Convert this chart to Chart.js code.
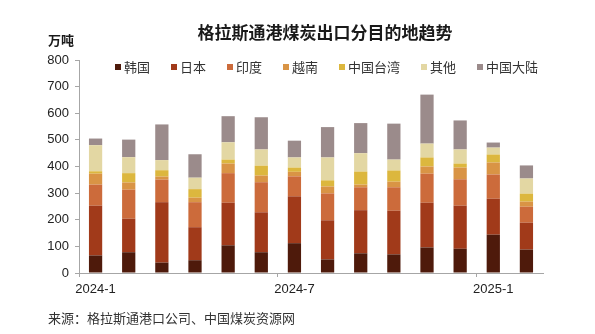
<!DOCTYPE html>
<html>
<head>
<meta charset="utf-8">
<script src="https://cdn.jsdelivr.net/npm/chart.js@4/dist/chart.umd.min.js"></script>
<style>
  html, body { margin: 0; padding: 0; background: #fff; }
  #wrap { width: 595px; height: 334px; }
</style>
</head>
<body>
<div id="wrap"><canvas id="coalChart" width="595" height="334"></canvas></div>
<script>
// months
var months = ['2024-1', '2024-2', '2024-3', '2024-4', '2024-5', '2024-6', '2024-7',
    '2024-8', '2024-9', '2024-10', '2024-11', '2024-12', '2025-1', '2025-2'];

// 万吨
var korea    = [66, 78, 39, 48, 104, 78, 112, 51, 74, 70, 96, 91, 144, 88];
var japan    = [187, 126, 227, 124, 160, 150, 176, 147, 162, 164, 168, 162, 135, 101];
var india    = [79, 109, 85, 94, 111, 113, 75, 101, 86, 88, 109, 99, 91, 60];
var vietnam  = [41, 27, 11, 17, 36, 25, 17, 26, 10, 21, 27, 44, 45, 19];
var taiwan   = [9, 35, 24, 32, 15, 37, 16, 23, 49, 42, 34, 15, 30, 30];
var others   = [98, 60, 38, 43, 65, 61, 38, 86, 69, 41, 52, 53, 26, 57];
var mainland = [25, 66, 134, 88, 98, 121, 63, 114, 113, 135, 184, 109, 19, 49];

var seriesNames = ['韩国', '日本', '印度', '越南', '中国台湾', '其他', '中国大陆'];
var yTicks = [0, 100, 200, 300, 400, 500, 600, 700, 800];

var titleText = '格拉斯通港煤炭出口分目的地趋势';
var unitText = '万吨';
var sourceText = '来源：格拉斯通港口公司、中国煤炭资源网';

var cjk = '"Noto Sans CJK SC", "Noto Sans", sans-serif';
var latin = '"Liberation Sans", Arial, sans-serif';

// title, unit, source note and legend drawn on the canvas
var decorations = {
    id: 'decorations',
    afterDraw: function (chart) {
        var ctx = chart.ctx;
        ctx.save();
        ctx.textBaseline = 'middle';

        ctx.fillStyle = '#1a1a1a';
        ctx.font = 'bold 17px ' + cjk;
        ctx.textAlign = 'center';
        ctx.fillText(titleText, 325, 33);

        ctx.textAlign = 'left';
        ctx.font = 'bold 13px ' + cjk;
        ctx.fillText(unitText, 48, 40);

        ctx.fillStyle = '#333';
        ctx.font = '13px ' + cjk;
        ctx.fillText(sourceText, 48, 318);

        // legend
        var sets = chart.data.datasets;
        var box = 6, gapText = 3, gapItem = 21;
        var total = 0;
        sets.forEach(function (ds, i) {
            total += box + gapText + ctx.measureText(ds.label).width;
            if (i < sets.length - 1) total += gapItem;
        });
        var x = 326.5 - total / 2;
        var y = 67;
        sets.forEach(function (ds) {
            ctx.fillStyle = ds.backgroundColor;
            ctx.fillRect(x, y - box / 2, box, box);
            x += box + gapText;
            ctx.fillStyle = '#333';
            ctx.fillText(ds.label, x, y);
            x += ctx.measureText(ds.label).width + gapItem;
        });
        ctx.restore();
    }
};

var colors = [
    '#4e1a0b', //韩国
    '#a13a1a', //日本
    '#cc6b3b', //印度
    '#d99445', //越南
    '#dcb73e', //中国台湾
    '#e3d7a3', //其他
    '#9b8b8b'  //中国大陆
];
var values = [korea, japan, india, vietnam, taiwan, others, mainland];

var ctx = document.getElementById('coalChart').getContext('2d');
var coalChart = new Chart(ctx, {
    type: 'bar',
    data: {
        labels: months,
        datasets: seriesNames.map(function (name, i) {
            return {
                label: name,
                data: values[i],
                backgroundColor: colors[i],
                borderWidth: 0,
                categoryPercentage: 1,
                barPercentage: 0.4
            };
        })
    },
    options: {
        responsive: false,
        animation: false,
        devicePixelRatio: 1,
        layout: { padding: { top: 60, right: 52, bottom: 0, left: 0 } },
        plugins: {
            legend: { display: false },
            title: { display: false },
            tooltip: { enabled: false }
        },
        scales: {
            x: {
                stacked: true,
                afterFit: function (scale) { scale.height = 61; },
                border: { display: true, color: '#a6a6a6', width: 1 },
                grid: {
                    offset: true,
                    drawOnChartArea: false,
                    drawTicks: true,
                    tickLength: 4,
                    color: function (c) {
                        return c.index % 6 === 0 ? '#a6a6a6' : 'rgba(0,0,0,0)';
                    }
                },
                ticks: {
                    autoSkip: false,
                    maxRotation: 0,
                    padding: 5,
                    color: '#222',
                    font: { family: latin, size: 13 },
                    callback: function (val, i) {
                        return i % 6 === 0 ? months[i] : '';
                    }
                }
            },
            y: {
                stacked: true,
                min: 0,
                max: 800,
                afterFit: function (scale) { scale.width = 79; },
                afterBuildTicks: function (scale) {
                    scale.ticks = yTicks.map(function (v) { return { value: v }; });
                },
                border: { display: true, color: '#a6a6a6', width: 1 },
                grid: {
                    drawOnChartArea: false,
                    drawTicks: true,
                    tickLength: 4,
                    color: '#a6a6a6'
                },
                ticks: {
                    padding: 6,
                    color: '#222',
                    font: { family: latin, size: 13 }
                }
            }
        }
    },
    plugins: [decorations]
});
</script>
</body>
</html>
